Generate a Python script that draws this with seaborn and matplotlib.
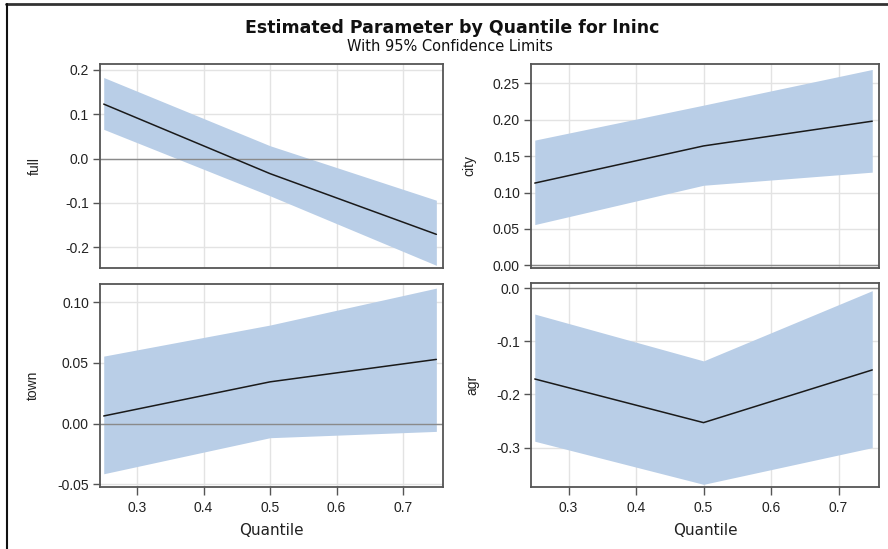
import matplotlib
matplotlib.use("Agg")
import matplotlib.pyplot as plt
from matplotlib.lines import Line2D
import seaborn as sns
import pandas as pd

# quantile regression estimates with 95% limits
quantiles = [0.25, 0.50, 0.75]

full_est = [0.123, -0.034, -0.171]
full_low = [0.066, -0.084, -0.241]
full_up = [0.183, 0.029, -0.094]

city_est = [0.113, 0.164, 0.198]
city_low = [0.056, 0.110, 0.128]
city_up = [0.172, 0.220, 0.269]

town_est = [0.0063, 0.0344, 0.0529]
town_low = [-0.0413, -0.0116, -0.0064]
town_up = [0.0556, 0.0812, 0.1116]

agr_est = [-0.171, -0.253, -0.154]
agr_low = [-0.288, -0.369, -0.300]
agr_up = [-0.049, -0.137, -0.005]

x_ticks = [0.3, 0.4, 0.5, 0.6, 0.7]
full_ticks = [-0.2, -0.1, 0.0, 0.1, 0.2]
city_ticks = [0.00, 0.05, 0.10, 0.15, 0.20, 0.25]
town_ticks = [-0.05, 0.00, 0.05, 0.10]
agr_ticks = [-0.3, -0.2, -0.1, 0.0]

sns.set_style("whitegrid")
plt.rcParams["font.family"] = ["Liberation Sans", "DejaVu Sans"]
plt.rcParams["axes.unicode_minus"] = False

BAND = "#B9CEE7"
LINE = "#1a1a1a"
SPINE = "#555555"
GRID = "#E3E3E3"
TXT = "#222222"

fig = plt.figure(figsize=(8.88, 5.49), dpi=100)

W, H = 888, 549


def rect(l, t, r, b):
    return [l / W, 1 - b / H, (r - l) / W, (b - t) / H]


panels = [
    ("full", full_est, full_low, full_up, full_ticks, "%.1f", (-0.247, 0.2135), rect(100, 64, 443, 268), False, -0.169),
    ("city", city_est, city_low, city_up, city_ticks, "%.2f", (-0.0036, 0.2765), rect(531, 64, 879, 268), False, -0.158),
    ("town", town_est, town_low, town_up, town_ticks, "%.2f", (-0.0522, 0.115), rect(100, 284, 443, 487), True, -0.175),
    ("agr", agr_est, agr_low, agr_up, agr_ticks, "%.1f", (-0.374, 0.0094), rect(531, 283, 879, 487), True, -0.149),
]

for name, est, low, up, yt, fmt, ylim, pos, bottom, ylx in panels:
    ax = fig.add_axes(pos)
    df = pd.DataFrame({"Quantile": quantiles, name: est})
    ax.fill_between(quantiles, low, up, color=BAND, lw=0, zorder=2)
    ax.axhline(0, color="#8a8a8a", lw=1.0, zorder=3)
    sns.lineplot(data=df, x="Quantile", y=name, ax=ax, color=LINE, lw=1.1, zorder=4)
    ax.set_xlim(0.2444, 0.760)
    ax.set_ylim(*ylim)
    ax.set_xticks(x_ticks)
    ax.set_yticks(yt)
    ax.set_yticklabels([fmt % v for v in yt])
    ax.grid(True, color=GRID, lw=1.0, zorder=0)
    ax.set_axisbelow(True)
    for s in ax.spines.values():
        s.set_color(SPINE)
        s.set_linewidth(1.3)
        s.set_zorder(5)
    ax.tick_params(axis="y", direction="out", length=5, width=1, color=SPINE,
                   labelsize=10, labelcolor=TXT, pad=3, left=True)
    if bottom:
        ax.tick_params(axis="x", direction="out", length=6, width=1, color=SPINE,
                       labelsize=10, labelcolor=TXT, pad=4, bottom=True)
        ax.set_xticklabels(["%.1f" % v for v in x_ticks])
        ax.set_xlabel("Quantile", fontsize=11, color=TXT, labelpad=6, family="DejaVu Sans")
    else:
        ax.tick_params(axis="x", bottom=False, labelbottom=False)
        ax.set_xlabel("")
    ax.set_ylabel(name, fontsize=10, color=TXT)
    ax.yaxis.set_label_coords(ylx, 0.5)

fig.text(452 / W, 1 - 28 / H, "Estimated Parameter by Quantile for lninc",
         ha="center", va="center", fontsize=12.5, fontweight="bold", color="#111111",
         family="DejaVu Sans")
fig.text(450 / W, 1 - 47 / H, "With 95% Confidence Limits",
         ha="center", va="center", fontsize=10.5, color="#111111", family="DejaVu Sans")

# outer frame edges visible in the reference
fig.add_artist(Line2D([6 / W, 1], [1 - 4 / H, 1 - 4 / H], transform=fig.transFigure,
                      color="#333333", lw=2))
fig.add_artist(Line2D([6.5 / W, 6.5 / W], [0, 1 - 4 / H], transform=fig.transFigure,
                      color="#111111", lw=1.5))

fig.savefig("out.png", dpi=100)
